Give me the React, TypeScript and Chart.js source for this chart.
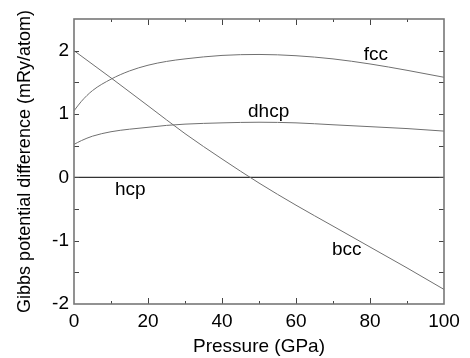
import React, { useEffect, useRef } from "react";
import { Chart, registerables } from "chart.js";

Chart.register(...registerables);

const pressure = [0, 2, 5, 10, 15, 20, 25, 30, 40, 50, 60, 70, 80, 90, 100];
const fcc = [1.05, 1.2, 1.37, 1.55, 1.68, 1.77, 1.83, 1.87, 1.925, 1.94, 1.92, 1.87, 1.79, 1.69, 1.58];
const dhcp = [0.52, 0.58, 0.65, 0.72, 0.76, 0.79, 0.82, 0.84, 0.86, 0.87, 0.86, 0.83, 0.8, 0.77, 0.73];
const bccP = [0, 10, 20, 30, 40, 50, 60, 70, 80, 90, 100];
const bcc = [2.0, 1.57, 1.13, 0.69, 0.29, -0.09, -0.44, -0.77, -1.1, -1.43, -1.77];
const hcpP = [0, 100];
const hcp = [0, 0];

const xTickLabels = [0, 20, 40, 60, 80, 100];
const yTickLabels = [-2, -1, 0, 1, 2];

const curveLabels = ["fcc", "dhcp", "hcp", "bcc"];
const labelX = [81.6, 52.6, 15.2, 73.7];
const labelY = [1.94, 1.04, -0.19, -1.14];

const FONT = "'Liberation Sans', Arial, sans-serif";

export default function App() {
  const ref = useRef<HTMLCanvasElement | null>(null);

  useEffect(() => {
    document.body.style.margin = "0";
    const canvas = ref.current;
    if (!canvas) return;

    const framePlugin = {
      id: "frame",
      afterDatasetsDraw(chart: any) {
        const { ctx, chartArea } = chart;
        const xs = chart.scales.x;
        const ys = chart.scales.y;
        const { left, right, top, bottom } = chartArea;
        ctx.save();
        // labels
        ctx.fillStyle = "#000";
        ctx.font = `19px ${FONT}`;
        ctx.textAlign = "center";
        ctx.textBaseline = "middle";
        curveLabels.forEach((t, i) => {
          ctx.fillText(t, xs.getPixelForValue(labelX[i]), ys.getPixelForValue(labelY[i]));
        });
        // ticks
        ctx.strokeStyle = "#444";
        ctx.lineWidth = 1;
        for (let v = 10; v < 100; v += 10) {
          const px = Math.round(xs.getPixelForValue(v)) + 0.5;
          const len = v % 20 === 0 ? 6 : 3;
          ctx.beginPath();
          ctx.moveTo(px, bottom);
          ctx.lineTo(px, bottom - len);
          ctx.moveTo(px, top);
          ctx.lineTo(px, top + len);
          ctx.stroke();
        }
        for (let v = -1.5; v < 2.5; v += 0.5) {
          const py = Math.round(ys.getPixelForValue(v)) + 0.5;
          ctx.beginPath();
          ctx.moveTo(left, py);
          ctx.lineTo(left + 5, py);
          ctx.moveTo(right, py);
          ctx.lineTo(right - 5, py);
          ctx.stroke();
        }
        // frame
        ctx.strokeStyle = "#777";
        ctx.lineWidth = 1.6;
        ctx.strokeRect(left, top, right - left, bottom - top);
        ctx.restore();
      },
    };

    const line = (label: string, xsv: number[], ysv: number[], color: string, w: number) => ({
      label,
      data: xsv.map((x, i) => ({ x, y: ysv[i] })),
      borderColor: color,
      borderWidth: w,
      pointRadius: 0,
      fill: false,
      cubicInterpolationMode: "monotone" as const,
    });

    const chart = new Chart(canvas, {
      type: "line",
      data: {
        datasets: [
          line("fcc", pressure, fcc, "#707070", 1),
          line("dhcp", pressure, dhcp, "#707070", 1),
          line("bcc", bccP, bcc, "#707070", 1),
          line("hcp", hcpP, hcp, "#333333", 1.4),
        ],
      },
      options: {
        animation: false,
        responsive: false,
        maintainAspectRatio: false,
        layout: { padding: { left: 0, right: 26, top: 19, bottom: 0 } },
        plugins: { legend: { display: false }, tooltip: { enabled: false } },
        scales: {
          x: {
            type: "linear",
            min: 0,
            max: 100,
            grid: { display: false, drawTicks: false },
            border: { display: false },
            ticks: {
              stepSize: 10,
              autoSkip: false,
              maxRotation: 0,
              padding: 6,
              color: "#000",
              font: { family: FONT, size: 19 },
              callback: (v: any) => (xTickLabels.includes(Number(v)) ? String(v) : ""),
            },
            title: {
              display: true,
              text: "Pressure (GPa)",
              color: "#000",
              font: { family: FONT, size: 19 },
              padding: { top: 2, bottom: 0 },
            },
            afterFit: (s: any) => {
              s.height = 54;
            },
          },
          y: {
            type: "linear",
            min: -2,
            max: 2.5,
            grid: { display: false, drawTicks: false },
            border: { display: false },
            ticks: {
              stepSize: 0.5,
              autoSkip: false,
              padding: 5,
              color: "#000",
              font: { family: FONT, size: 19 },
              callback: (v: any) => (yTickLabels.includes(Number(v)) ? String(v) : ""),
            },
            title: {
              display: true,
              text: "Gibbs potential difference (mRy/atom)",
              color: "#000",
              font: { family: FONT, size: 18 },
              padding: { top: 14, bottom: 0 },
            },
            afterFit: (s: any) => {
              s.width = 74;
            },
          },
        },
      },
      plugins: [framePlugin],
    });

    return () => chart.destroy();
  }, []);

  return <canvas ref={ref} width={470} height={358} style={{ display: "block" }} />;
}
